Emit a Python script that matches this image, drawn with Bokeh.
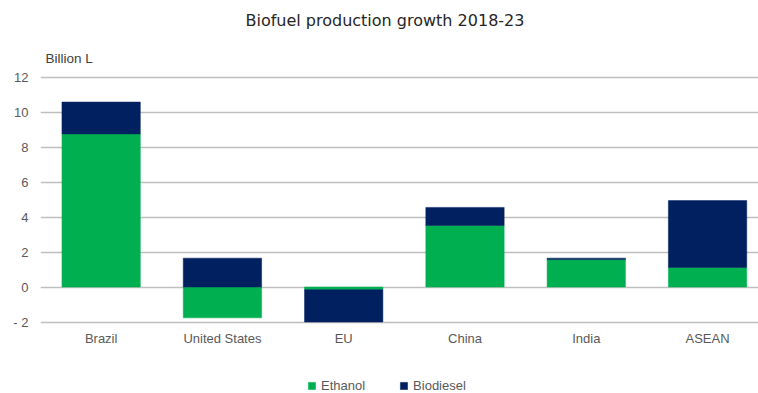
from bokeh.plotting import figure
from bokeh.models import ColumnDataSource, Legend, LegendItem, Label, FixedTicker, Range1d
from bokeh.core.properties import value
from bokeh.embed import file_html
from bokeh.resources import INLINE

categories = ["Brazil", "United States", "EU", "China", "India", "ASEAN"]
ethanol = [8.75, -1.76, -0.15, 3.52, 1.57, 1.12]
biodiesel = [1.82, 1.65, -1.85, 1.03, 0.08, 3.82]
series_names = ["Ethanol", "Biodiesel"]
series_colors = ["#00B050", "#002060"]
y_ticks = [-2, 0, 2, 4, 6, 8, 10, 12]

xs = list(range(len(categories)))

# Excel-style stacking: positives stack upward, negatives downward
pos = [0.0] * len(categories)
neg = [0.0] * len(categories)
stacked = []
for vals in (ethanol, biodiesel):
    bottoms, tops = [], []
    for i, v in enumerate(vals):
        if v >= 0:
            bottoms.append(pos[i]); tops.append(pos[i] + v); pos[i] += v
        else:
            bottoms.append(neg[i]); tops.append(neg[i] + v); neg[i] += v
    stacked.append((bottoms, tops))

y_min = min(y_ticks)
# the frame covers the full height; space above 12 holds the titles,
# space below -2 holds category labels + legend (gridlines only at ticks)
p = figure(width=758, height=393, output_backend="svg", toolbar_location=None,
           x_range=Range1d(-0.5, 5.42), y_range=Range1d(-6.084, 16.373))
p.min_border_left = 40
p.min_border_right = 0
p.min_border_top = 0
p.min_border_bottom = 0
p.outline_line_color = None
p.background_fill_color = "white"
p.border_fill_color = "white"

renderers = []
for (bottoms, tops), name, color in zip(stacked, series_names, series_colors):
    src = ColumnDataSource(dict(x=xs, bottom=bottoms, top=tops))
    r = p.vbar(x="x", bottom="bottom", top="top", width=0.646, source=src,
               fill_color=color, line_color=color, line_width=0.5)
    renderers.append(r)

# category labels just under the lowest gridline
lab_src = ColumnDataSource(dict(x=xs, y=[y_min - 0.94] * len(xs), text=categories))
p.text(x="x", y="y", text="text", source=lab_src, text_align="center",
       text_baseline="middle", text_font=value("Liberation Sans"),
       text_font_size="13px", text_color="#595959")

p.xaxis.visible = False
p.xgrid.grid_line_color = None
p.ygrid.grid_line_color = "#BFBFBF"
p.ygrid.grid_line_width = 1.3
p.yaxis.ticker = FixedTicker(ticks=y_ticks)
p.yaxis.major_label_overrides = {t: ("- " + str(-t) if t < 0 else str(t)) for t in y_ticks}

ax = p.yaxis[0]
ax.axis_line_color = None
ax.major_tick_line_color = None
ax.minor_tick_line_color = None
ax.major_tick_out = 0
ax.major_tick_in = 0
ax.major_label_text_font = "Liberation Sans"
ax.major_label_text_font_size = "13px"
ax.major_label_text_color = "#595959"
ax.major_label_standoff = 12

title = Label(x=1.19, y=15.23, text="Biofuel production growth 2018-23",
              text_align="left", text_baseline="middle",
              text_font="DejaVu Sans", text_font_size="16px", text_color="#262626")
p.add_layout(title)
unit = Label(x=-0.459, y=13.06, text="Billion L", text_align="left", text_baseline="middle",
             text_font="Liberation Sans", text_font_size="13.5px", text_color="#404040")
p.add_layout(unit)

legend = Legend(items=[LegendItem(label=n, renderers=[r]) for n, r in zip(series_names, renderers)],
                orientation="horizontal", location=(267, 0),
                border_line_color=None, background_fill_alpha=0,
                padding=0, margin=0, spacing=34,
                glyph_width=9, glyph_height=9, label_standoff=5,
                label_text_font="Liberation Sans", label_text_font_size="13px",
                label_text_color="#595959")
p.add_layout(legend, "center")

open("out.html", "w").write(file_html(p, INLINE))
